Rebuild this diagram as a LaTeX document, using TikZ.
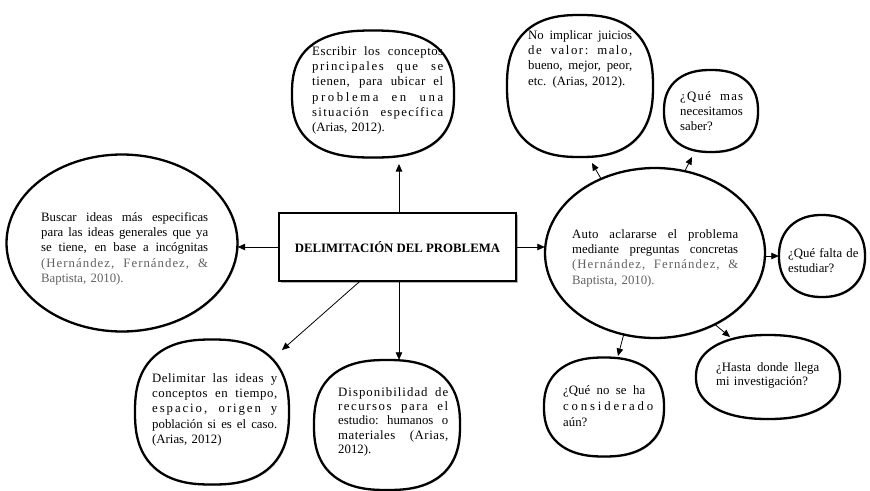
\documentclass[tikz,border=0pt]{standalone}
\usepackage{fontspec}
\setmainfont{Liberation Serif}
\usetikzlibrary{arrows.meta,calc,shapes.geometric,shadows}
\definecolor{cite}{gray}{0.38}
\newlength{\jw}
\newcommand{\jline}[1]{\leavevmode\hbox to \jw{\spaceskip=0.25em plus 1fil\xspaceskip=\spaceskip\strut#1}\\}
\newcommand{\sline}[2]{\leavevmode\hbox to \jw{\addfontfeature{LetterSpace=#1}\spaceskip=0.25em plus 1fil\xspaceskip=\spaceskip\strut#2}\\}
\newcommand{\lline}[1]{{\strut#1}}
% blob: name, cx, cy, width, height, exponent
\newcommand{\blob}[6]{%
  \node[draw=none, ellipse, minimum width=#4pt, minimum height=#5pt, inner sep=0pt] (#1) at (#2,#3) {};
  \draw[blobline] plot[domain=0:360, samples=121, variable=\t]
    ({#2+(#4/2)*cos(\t)*(abs(cos(\t))+0.00001)^(#6-1)},
     {#3+(#5/2)*sin(\t)*(abs(sin(\t))+0.00001)^(#6-1)}) -- cycle;}
\begin{document}
\begin{tikzpicture}[x=1pt,y=-1pt,
  blobline/.style={draw, line width=2.3pt, fill=white, line join=round,
    drop shadow={shadow xshift=1.2pt, shadow yshift=-1.2pt, opacity=0.35}},
  mainbox/.style={draw, line width=1.6pt, fill=white, inner sep=0pt,
    drop shadow={shadow xshift=1.5pt, shadow yshift=-1.5pt, opacity=0.6},
    font=\bfseries\fontsize{12.8}{15}\selectfont},
  txt/.style={anchor=north west, inner sep=0pt, align=left,
    font=\fontsize{12.8}{15.3}\selectfont, text width=#1},
  arr/.style={-{Triangle[length=7.5pt,width=6.5pt]}, line width=0.8pt}]
\useasboundingbox (0,0) rectangle (870,490);

% shapes
\blob{top}{373}{94}{162}{127}{0.78}
\blob{left}{122}{243}{231}{177}{1}
\blob{big}{655}{253}{220}{170}{1}
\blob{noimpl}{580}{86}{146}{142}{0.8}
\blob{quemas}{711}{111}{94}{82}{0.86}
\blob{falta}{822}{256}{86}{82}{0.9}
\blob{hasta}{768}{377}{144}{84}{0.88}
\blob{queno}{604}{407}{120}{99}{0.84}
\blob{delim}{212}{412}{154}{145}{0.8}
\blob{dispo}{387}{425}{146}{130}{0.8}

% central box
\node[mainbox, minimum width=237pt, minimum height=68pt] (box) at (397.5,247) {DELIMITACIÓN DEL PROBLEMA};

% arrow tips
\coordinate (tTop) at (399,164);
\coordinate (tDel) at (282,350);
\coordinate (tNo) at (592,163);
\coordinate (tQm) at (692,157);
\coordinate (tHa) at (730,337);
\coordinate (tQn) at (618,356);

\draw[arr] (box.north -| tTop) -- (tTop);
\draw[arr] (box.west) -- (left.east |- box.west);
\draw[arr] (box.east) -- (big.west |- box.east);
\draw[arr] ($(box.south west)!0.34!(box.south east)$) -- (tDel);
\draw[arr] (box.south -| tTop) -- (tTop |- dispo.north);
\draw[arr] (big.126) -- (tNo);
\draw[arr] (big.70) -- (tQm);
\draw[arr] (big.east |- falta.west) -- (falta.west);
\draw[arr] (big.-50) -- (tHa);
\draw[arr] (big.-111) -- (tQn);

% texts
\node[txt=167pt] (xleft) at (41,210.3) {\setlength{\jw}{167pt}%
\jline{Buscar ideas más especificas}%
\jline{para las ideas generales que ya}%
\jline{se tiene, en base a incógnitas}%
\sline{8}{\color{cite}(Hernández, Fernández, \&}%
\lline{\color{cite}Baptista, 2010).}};

\node[txt=131pt] (xtop) at (312,44.3) {\setlength{\jw}{131pt}%
\sline{4}{Escribir los conceptos}%
\sline{12}{principales que se}%
\sline{4}{tienen, para ubicar el}%
\sline{20}{problema en una}%
\sline{10}{situación específica}%
\lline{(Arias, 2012).}};

\node[txt=166pt] (xbig) at (572,227.3) {\setlength{\jw}{166pt}%
\sline{2}{Auto aclararse el problema}%
\jline{mediante preguntas concretas}%
\sline{8}{\color{cite}(Hernández, Fernández, \&}%
\lline{\color{cite}Baptista, 2010).}};

\node[txt=104pt] (xnoimpl) at (528,28.3) {\setlength{\jw}{104pt}%
\jline{No implicar juicios}%
\sline{12}{de valor: malo,}%
\jline{bueno, mejor, peor,}%
\lline{etc. (Arias, 2012).}};

\node[txt=63pt] (xquemas) at (680,89.3) {\setlength{\jw}{63pt}%
\sline{10}{¿Qué mas}%
\lline{necesitamos}\\%
\lline{saber?}};

\node[txt=80pt] (xfalta) at (788,246.3) {%
\lline{¿Qué falta de}\\%
\lline{estudiar?}};

\node[txt=103pt, font=\fontsize{12.8}{14.3}\selectfont] (xhasta) at (716,361.3) {\setlength{\jw}{103pt}%
\jline{¿Hasta donde llega}%
\lline{mi investigación?}};

\node[txt=82pt, font=\fontsize{12.8}{16}\selectfont] (xqueno) at (563,383.3) {\setlength{\jw}{82pt}%
\jline{¿Qué no se ha}%
\sline{22}{considerado}%
\lline{aún?}};

\node[txt=125pt] (xdelim) at (152,371.3) {\setlength{\jw}{125pt}%
\sline{4}{Delimitar las ideas y}%
\sline{4}{conceptos en tiempo,}%
\sline{15}{espacio, origen y}%
\jline{población si es el caso.}%
\lline{(Arias, 2012)}};

\node[txt=110pt, font=\fontsize{12.8}{14.2}\selectfont] (xdispo) at (338,386.3) {\setlength{\jw}{110pt}%
\sline{8}{Disponibilidad de}%
\sline{12}{recursos para el}%
\jline{estudio: humanos o}%
\sline{4}{materiales (Arias,}%
\lline{2012).}};
\end{tikzpicture}
\end{document}
